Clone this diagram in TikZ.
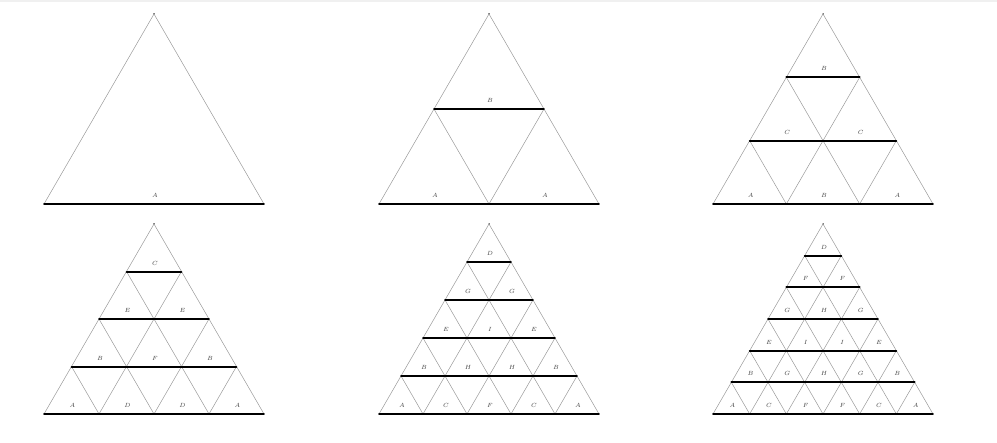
\documentclass[tikz,border=0pt]{standalone}
\tikzset{
 thinedge/.style={draw=gray!80, line width=0.5pt},
 rowline/.style={draw=black, line width=1.8pt, line cap=round},
 lab/.style={font=\fontsize{6}{7}\selectfont, text=gray!50!black, inner sep=0pt},
 apexdot/.style={fill=black, inner sep=0pt, minimum size=1.5pt, circle}
}
\newcommand\drawtri[5]{%
 \node[apexdot] (apex#5) at (#1,#2) {};
 \pgfmathtruncatemacro\nm{#3-1}
 \foreach \k in {0,...,\nm} {
   \draw[thinedge] ({#1+\k*110/#3},{#2+\k*190/#3}) -- ({#1-110+\k*220/#3},{#2+190});
   \draw[thinedge] ({#1-\k*110/#3},{#2+\k*190/#3}) -- ({#1+110-\k*220/#3},{#2+190});
 }
 \foreach \i in {1,...,#3} {
   \pgfmathsetmacro\yy{round(#2+\i*190/#3)}
   \draw[rowline] ({#1-\i*110/#3},\yy) -- ({#1+\i*110/#3},\yy);
 }
 \foreach \r [count=\i] in {#4} {
   \foreach \l [count=\j] in \r {
     \node[lab] (L#5-\i-\j) at ({#1-\i*110/#3+(\j-0.5)*220/#3+1},{#2+\i*190/#3-8.5}) {$\l$};
   }
 }
}
\begin{document}
\begin{tikzpicture}[x=1pt,y=-1pt]
\useasboundingbox (0,0) rectangle (997,443);
\fill[gray!12] (0,0) rectangle (997,2.5);
\drawtri{154}{14}{1}{{A}}{a}
\drawtri{489}{14}{2}{{B},{A,A}}{b}
\drawtri{823}{14}{3}{{B},{C,C},{A,B,A}}{c}
\drawtri{154}{224}{4}{{C},{E,E},{B,F,B},{A,D,D,A}}{d}
\drawtri{489}{224}{5}{{D},{G,G},{E,I,E},{B,H,H,B},{A,C,F,C,A}}{e}
\drawtri{823}{224}{6}{{D},{F,F},{G,H,G},{E,I,I,E},{B,G,H,G,B},{A,C,F,F,C,A}}{f}
\end{tikzpicture}
\end{document}
